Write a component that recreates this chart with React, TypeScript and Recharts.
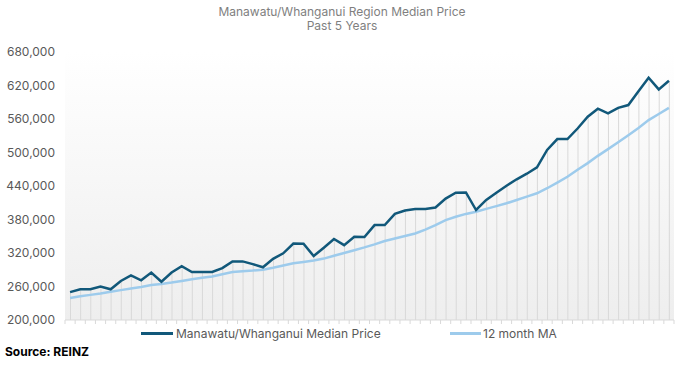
import React from 'react';
import { ComposedChart, Bar, Line, XAxis, YAxis, CartesianGrid } from 'recharts';

// 60 monthly observations, oldest first
const months = Array.from({ length: 60 }, (_, i) => i + 1);

const medianPrice = [
  250000, 255000, 255000, 260000, 255000, 270000, 280000, 271000, 285000, 268500,
  285000, 296500, 286000, 286000, 286000, 293000, 305000, 305000, 300000, 294500,
  309500, 319500, 337000, 336500, 314500, 329500, 345000, 334000, 349000, 348500,
  370000, 370000, 390000, 396000, 399000, 399000, 401500, 417500, 428000, 428500,
  397000, 415000, 428000, 440500, 452000, 462000, 473500, 504500, 524000, 524000,
  543000, 564000, 578500, 570000, 580000, 585000, 609500, 634000, 613000, 628500,
];

const movingAvg = [
  239500, 242500, 245000, 247500, 250500, 253500, 256500, 259000, 262500, 264500,
  267000, 270000, 273000, 275500, 278000, 282000, 286000, 287500, 288500, 290000,
  293500, 297500, 301500, 304000, 306500, 310000, 315000, 320000, 325000, 330000,
  335500, 341500, 346000, 350500, 355000, 362000, 370000, 379000, 385000, 390000,
  394000, 399000, 404000, 409000, 415000, 421000, 427000, 436000, 446000, 456500,
  469000, 481000, 494000, 506000, 518500, 531000, 544000, 558000, 569000, 580000,
];

const yTicks = [200000, 260000, 320000, 380000, 440000, 500000, 560000, 620000, 680000];

const data = months.map((m, i) => ({ month: m, median: medianPrice[i], ma: movingAvg[i] }));

const DARK = '#11587a';
const LIGHT = '#9dcbec';
const W = 686;
const H = 367;
const M = { top: 52, right: 12, left: 0, bottom: 37 };
const Y_W = 65;
const BAND = (W - M.left - M.right - Y_W) / months.length;

const TickMark = (props: any) => {
  const { x, y, index } = props;
  const last = index === months.length - 1;
  return (
    <g>
      <line x1={x - BAND / 2} x2={x - BAND / 2} y1={y} y2={y + 4} stroke="#d9d9d9" />
      {last && <line x1={x + BAND / 2} x2={x + BAND / 2} y1={y} y2={y + 4} stroke="#d9d9d9" />}
    </g>
  );
};

export default function App() {
  const font = 'Inter, sans-serif';
  return (
    <div style={{ position: 'absolute', left: 0, top: 0, width: W, height: H, fontFamily: font, background: '#fff' }}>
      <div
        style={{
          position: 'absolute', top: 5, left: 0, width: W - 2, textAlign: 'center',
          fontSize: 12, lineHeight: '14px', color: '#7f7f7f',
        }}
      >
        Manawatu/Whanganui Region Median Price
        <br />
        Past 5 Years
      </div>
      <ComposedChart width={W} height={H} data={data} margin={M} barCategoryGap={0}>
        <defs>
          <linearGradient id="plotBg" x1="0" y1="0" x2="0" y2="1">
            <stop offset="0%" stopColor="#ffffff" />
            <stop offset="100%" stopColor="#eeeeee" />
          </linearGradient>
        </defs>
        <CartesianGrid horizontal={false} vertical={false} fill="url(#plotBg)" stroke="none" />
        <XAxis
          dataKey="month"
          interval={0}
          axisLine={{ stroke: '#d9d9d9' }}
          tickLine={false}
          tickSize={0}
          tickMargin={0}
          height={10}
          tick={<TickMark />}
        />
        <YAxis
          width={Y_W}
          domain={[200000, 680000]}
          ticks={yTicks}
          axisLine={false}
          tickLine={false}
          tickSize={0}
          tickMargin={10}
          tick={{ fill: '#595959', fontSize: 12, fontFamily: font }}
          tickFormatter={(v: number) => v.toLocaleString('en-US')}
        />
        <Bar dataKey="median" barSize={1} fill="#d9d9d9" isAnimationActive={false} />
        <Line
          dataKey="ma"
          stroke={LIGHT}
          strokeWidth={2.5}
          dot={false}
          type="linear"
          isAnimationActive={false}
        />
        <Line
          dataKey="median"
          stroke={DARK}
          strokeWidth={2.5}
          dot={false}
          type="linear"
          isAnimationActive={false}
        />
      </ComposedChart>
      <div style={{ position: 'absolute', top: 326, left: 141, display: 'flex', alignItems: 'center', fontSize: 12, color: '#595959' }}>
        <span style={{ display: 'inline-block', width: 32, height: 3, background: DARK, marginRight: 3 }} />
        Manawatu/Whanganui Median Price
      </div>
      <div style={{ position: 'absolute', top: 326, left: 450, display: 'flex', alignItems: 'center', fontSize: 12, color: '#595959' }}>
        <span style={{ display: 'inline-block', width: 31, height: 3, background: LIGHT, marginRight: 2 }} />
        12 month MA
      </div>
      <div style={{ position: 'absolute', top: 344, left: 5, fontSize: 12, fontWeight: 700, color: '#000' }}>
        Source: REINZ
      </div>
    </div>
  );
}
